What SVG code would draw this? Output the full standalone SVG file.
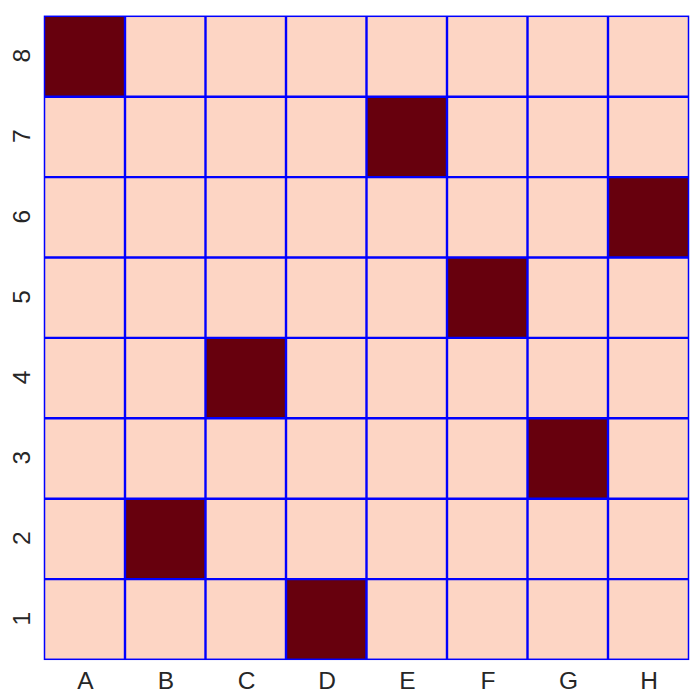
<svg xmlns="http://www.w3.org/2000/svg" width="700" height="700" viewBox="0 0 700 700">
<style>
.l{fill:#FDD5C4}
.d{fill:#67000D}
.g{stroke:#0000FF;stroke-width:2.4;fill:none}
.o{stroke:#0000FF;stroke-width:1.5;fill:none}
.t{font-family:"Liberation Sans",Arial,sans-serif;font-size:24.5px;fill:#262626;text-anchor:middle}
</style>
<rect width="700" height="700" fill="#FFFFFF"/>
<g id="cells">
<rect class="l" x="44.5" y="16.3" width="644" height="643"/>
<rect class="d" x="44.5" y="16.3" width="80.5" height="80.4"/>
<rect class="d" x="366.5" y="96.7" width="80.5" height="80.4"/>
<rect class="d" x="608" y="177.1" width="80.5" height="80.4"/>
<rect class="d" x="447" y="257.5" width="80.5" height="80.4"/>
<rect class="d" x="205.5" y="337.9" width="80.5" height="80.4"/>
<rect class="d" x="527.5" y="418.3" width="80.5" height="80.4"/>
<rect class="d" x="125" y="498.7" width="80.5" height="80.4"/>
<rect class="d" x="286" y="579.1" width="80.5" height="80.2"/>
</g>
<g id="gridlines">
<path class="g" d="M125 16.3V659.3M205.5 16.3V659.3M286 16.3V659.3M366.5 16.3V659.3M447 16.3V659.3M527.5 16.3V659.3M608 16.3V659.3"/>
<path class="g" d="M44.5 96.7H688.5M44.5 177.1H688.5M44.5 257.5H688.5M44.5 337.9H688.5M44.5 418.3H688.5M44.5 498.7H688.5M44.5 579.1H688.5"/>
<rect class="o" x="44.5" y="16.3" width="644" height="643"/>
</g>
<g id="xlabels">
<text class="t" x="85.5" y="689">A</text>
<text class="t" x="166" y="689">B</text>
<text class="t" x="246.5" y="689">C</text>
<text class="t" x="327" y="689">D</text>
<text class="t" x="407.5" y="689">E</text>
<text class="t" x="488" y="689">F</text>
<text class="t" x="568.5" y="689">G</text>
<text class="t" x="649" y="689">H</text>
</g>
<g id="ylabels">
<text class="t" transform="translate(29.5,55.8) rotate(-90)">8</text>
<text class="t" transform="translate(29.5,136.2) rotate(-90)">7</text>
<text class="t" transform="translate(29.5,216.6) rotate(-90)">6</text>
<text class="t" transform="translate(29.5,297) rotate(-90)">5</text>
<text class="t" transform="translate(29.5,377.4) rotate(-90)">4</text>
<text class="t" transform="translate(29.5,457.8) rotate(-90)">3</text>
<text class="t" transform="translate(29.5,538.2) rotate(-90)">2</text>
<text class="t" transform="translate(29.5,618.6) rotate(-90)">1</text>
</g>
</svg>
